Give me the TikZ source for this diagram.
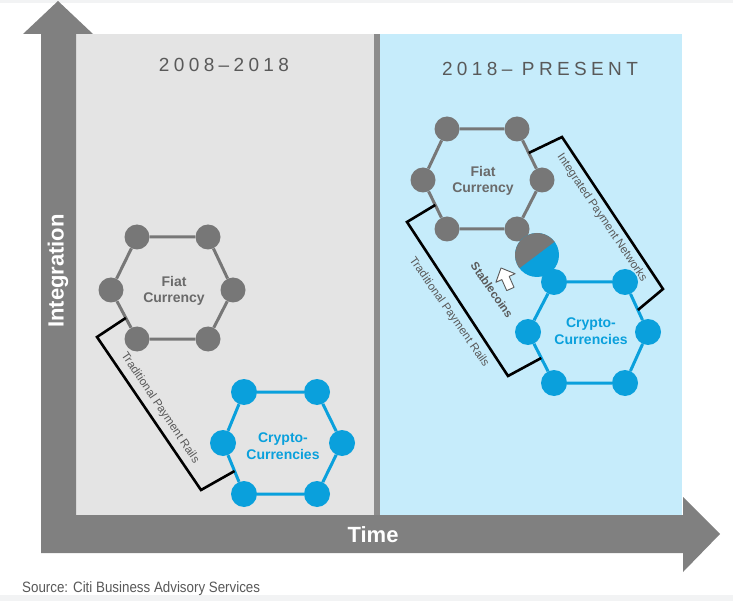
\documentclass[tikz,border=0pt]{standalone}
\usepackage{fontspec}
\setmainfont{Liberation Sans}
\usetikzlibrary{calc}
\definecolor{arrowgray}{HTML}{808080}
\definecolor{leftbg}{HTML}{E4E4E4}
\definecolor{rightbg}{HTML}{C6ECFB}
\definecolor{divgray}{HTML}{8C8C8C}
\definecolor{hexgray}{HTML}{777777}
\definecolor{hexblue}{HTML}{0AA0DC}
\definecolor{textgray}{HTML}{595959}
\definecolor{fiattext}{HTML}{6A6A6A}
\definecolor{bandgray}{HTML}{F2F3F4}
\newcommand{\myfs}[2]{\fontsize{#1}{#2}\selectfont}
\begin{document}
\begin{tikzpicture}[x=1pt,y=-1pt,
  gdot/.style={circle,fill=hexgray,minimum size=25pt,inner sep=0pt},
  bdot/.style={circle,fill=hexblue,minimum size=26pt,inner sep=0pt},
  gedge/.style={draw=hexgray,line width=3pt},
  bedge/.style={draw=hexblue,line width=3pt},
  bracket/.style={draw=black,line width=2.6pt,line join=miter},
  railtext/.style={text=textgray,font=\myfs{11.5}{13},inner sep=0pt},
  fiatlabel/.style={text=fiattext,font=\bfseries\myfs{14}{16.5},align=center,inner sep=0pt},
  cryptolabel/.style={text=hexblue,font=\bfseries\myfs{14}{17},align=center,inner sep=0pt},
  header/.style={text=textgray,font=\myfs{19}{22}\addfontfeature{LetterSpace=23},inner sep=0pt},
  axislabel/.style={text=white,font=\bfseries\myfs{22}{24},inner sep=0pt}
]
\useasboundingbox (0,0) rectangle (733,601);
\fill[white] (0,0) rectangle (733,601);
\fill[bandgray] (0,0) rectangle (733,3);
\fill[bandgray] (0,595) rectangle (733,601);

% panels
\fill[leftbg] (76,34) rectangle (374,515);
\fill[rightbg] (380,34) rectangle (682,515);
\fill[divgray] (374,34) rectangle (380,515);

% axes arrow
\fill[arrowgray] (41,553) -- (41,34) -- (23,34) -- (58,1) -- (93,34) -- (76,34)
  -- (76,515) -- (683,515) -- (683,497) -- (720,534) -- (683,572) -- (683,553) -- cycle;

\node[axislabel,rotate=90] (ylab) at (58,271) {Integration};
\node[axislabel] (xlab) at (373,535) {Time};
\node[anchor=west,text=textgray,inner sep=0pt,font=\myfs{15}{17}] (src) at (22,589)
  {\scalebox{0.89}[1]{Source: Citi Business Advisory Services}};

\node[header] (h1) at (224,65) {2008–2018};
\node[header] (h2) at (540,69) {2018– PRESENT};

% ---- left fiat hexagon
\node[gdot] (lf-tl) at (137,237) {};
\node[gdot] (lf-tr) at (208,237) {};
\node[gdot] (lf-l)  at (111,290) {};
\node[gdot] (lf-r)  at (233,290) {};
\node[gdot] (lf-bl) at (137,339) {};
\node[gdot] (lf-br) at (208,339) {};
\draw[gedge] (lf-tl) -- (lf-tr) (lf-tr) -- (lf-r) (lf-r) -- (lf-br)
  (lf-br) -- (lf-bl) (lf-bl) -- (lf-l) (lf-l) -- (lf-tl);
\node[fiatlabel] (lf-txt) at (174,291) {Fiat\\Currency};

% ---- left crypto hexagon
\node[bdot] (lc-tl) at (244,392) {};
\node[bdot] (lc-tr) at (317,392) {};
\node[bdot] (lc-l)  at (223,443) {};
\node[bdot] (lc-r)  at (342,443) {};
\node[bdot] (lc-bl) at (244,494) {};
\node[bdot] (lc-br) at (317,494) {};
\draw[bedge] (lc-tl) -- (lc-tr) (lc-tr) -- (lc-r) (lc-r) -- (lc-br)
  (lc-br) -- (lc-bl) (lc-bl) -- (lc-l) (lc-l) -- (lc-tl);
\node[cryptolabel] (lc-txt) at (283,446) {Crypto-\\Currencies};

% ---- left bracket
\coordinate (lb-s) at ($(lf-l)!0.57!(lf-bl)$);
\coordinate (lb-c1) at (97,337);
\coordinate (lb-c2) at (201,490);
\coordinate (lb-e) at ($(lc-l)!0.55!(lc-bl)$);
\draw[bracket] (lb-s) -- (lb-c1) -- (lb-c2) -- (lb-e);
\node[railtext,rotate=-56] (lb-txt) at (160,408) {Traditional Payment Rails};

% ---- right fiat hexagon
\node[gdot] (rf-tl) at (447,129) {};
\node[gdot] (rf-tr) at (517,129) {};
\node[gdot] (rf-l)  at (423,180) {};
\node[gdot] (rf-r)  at (542,180) {};
\node[gdot] (rf-bl) at (447,229) {};
\node[gdot] (rf-br) at (517,229) {};
\draw[gedge] (rf-tl) -- (rf-tr) (rf-tr) -- (rf-r) (rf-r) -- (rf-br)
  (rf-br) -- (rf-bl) (rf-bl) -- (rf-l) (rf-l) -- (rf-tl);
\node[fiatlabel] (rf-txt) at (483,181) {Fiat\\Currency};

% ---- right crypto hexagon
\node[bdot] (rc-tl) at (554,282) {};
\node[bdot] (rc-tr) at (625,282) {};
\node[bdot] (rc-l)  at (528,332) {};
\node[bdot] (rc-r)  at (648,332) {};
\node[bdot] (rc-bl) at (554,383) {};
\node[bdot] (rc-br) at (625,383) {};
\draw[bedge] (rc-tl) -- (rc-tr) (rc-tr) -- (rc-r) (rc-r) -- (rc-br)
  (rc-br) -- (rc-bl) (rc-bl) -- (rc-l) (rc-l) -- (rc-tl);
\node[cryptolabel] (rc-txt) at (591,331) {Crypto-\\Currencies};

% ---- stablecoin pie
\coordinate (stable) at (537,255);
\fill[hexblue] (stable) circle[radius=22];
\fill[hexgray] (stable) -- ++(143:22) arc[start angle=143,end angle=323,radius=22] -- cycle;
\node[text=textgray,font=\bfseries\myfs{11.5}{13},inner sep=0pt,rotate=-55] (st-txt) at (492,290) {Stablecoins};

% cursor arrow
\begin{scope}[shift={(505.5,278)},rotate=114]
\filldraw[fill=white,draw=textgray,line width=0.9pt,line join=round]
  (-12,-4) -- (0,-4) -- (0,-10.5) -- (11,0) -- (0,10.5) -- (0,4) -- (-12,4) -- cycle;
\end{scope}

% ---- right brackets
\coordinate (rb-s) at ($(rf-l)!0.51!(rf-bl)$);
\coordinate (rb-c1) at (407,222);
\coordinate (rb-c2) at (508,376);
\coordinate (rb-e) at ($(rc-l)!0.51!(rc-bl)$);
\draw[bracket] (rb-s) -- (rb-c1) -- (rb-c2) -- (rb-e);
\node[railtext,rotate=-55] (rb-txt) at (449,312) {Traditional Payment Rails};

\coordinate (ib-s) at ($(rf-tr)!0.47!(rf-r)$);
\coordinate (ib-c1) at (562,137);
\coordinate (ib-c2) at (663,289);
\coordinate (ib-e) at ($(rc-tr)!0.56!(rc-r)$);
\draw[bracket] (ib-s) -- (ib-c1) -- (ib-c2) -- (ib-e);
\node[railtext,rotate=-56] (ib-txt) at (602,218) {Integrated Payment Networks};
\end{tikzpicture}
\end{document}
